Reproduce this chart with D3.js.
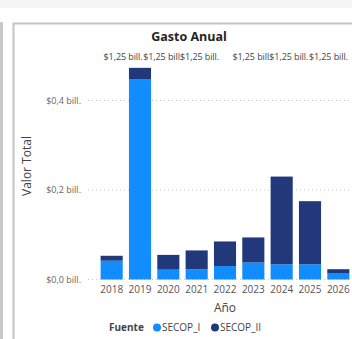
<!DOCTYPE html>
<html><head><meta charset="utf-8">
<script src="https://cdn.jsdelivr.net/npm/d3@7"></script>
<style>
html,body{margin:0;padding:0;background:#fff;overflow:hidden;}
svg{display:block;font-family:"Segoe UI","Open Sans",sans-serif;}
</style></head>
<body>
<svg id="c" width="352" height="339"></svg>
<script>
const years = ["2018","2019","2020","2021","2022","2023","2024","2025","2026"];
const secopI  = [0.042, 0.448, 0.022, 0.023, 0.030, 0.038, 0.034, 0.034, 0.0145];
const secopII = [0.011, 0.025, 0.033, 0.042, 0.055, 0.056, 0.196, 0.141, 0.0085];
const seriesNames = ["SECOP_I","SECOP_II"];
const seriesColors = ["#118DFF","#21387A"];
const yTicks = [0, 0.2, 0.4];
const totalLabel = "$1,25 bill.";
const labelSlots = [0.4, 1.8, 3.1, 4.95, 6.25, 7.65];

const svg = d3.select("#c");
const W = 352, H = 339;

// background pieces
svg.append("rect").attr("x",0).attr("y",0).attr("width",W).attr("height",8).attr("fill","#f5f5f5");
svg.append("rect").attr("x",0).attr("y",22).attr("width",3).attr("height",H-22).attr("fill","#c8c8c8");
svg.append("path").attr("d",`M13.5,${H} V23.5 H${W+2}`).attr("fill","none").attr("stroke","#c4c4c4").attr("stroke-width",2);

const loc = d3.formatLocale({decimal:",", thousands:".", grouping:[3], currency:["$",""]});
const fmt = v => "$" + loc.format(".1f")(v) + " bill.";

const x = d3.scaleBand().domain(years).range([97.5, 352.5]).paddingInner(0.22).paddingOuter(0.11);
const y = d3.scaleLinear().domain([0, 0.5]).range([279.5, 279.5 - 0.5*447.5]);

// gridlines
svg.append("g").selectAll("line").data(yTicks).join("line")
  .attr("x1",88).attr("x2",W).attr("y1",d=>y(d)).attr("y2",d=>y(d))
  .attr("stroke","#c8c8c8").attr("stroke-width",1).attr("stroke-dasharray","1,3");

// y axis labels
const yAxis = d3.axisLeft(y).tickValues(yTicks).tickFormat(fmt).tickSize(0).tickPadding(0);
const gy = svg.append("g").attr("transform","translate(81,0)").call(yAxis);
gy.select(".domain").remove();
gy.selectAll("text").attr("fill","#666").attr("font-size","9px").style("font-family","'Segoe UI','Open Sans',sans-serif");

// stacked bars
const table = years.map((yr,i)=>({year:yr, SECOP_I:secopI[i], SECOP_II:secopII[i]}));
const stacked = d3.stack().keys(seriesNames)(table);
svg.append("g").selectAll("g").data(stacked).join("g")
  .attr("fill",(d,i)=>seriesColors[i])
  .selectAll("rect").data(d=>d).join("rect")
  .attr("x",d=>x(d.data.year)).attr("width",x.bandwidth())
  .attr("y",d=>y(d[1])).attr("height",d=>y(d[0])-y(d[1]));

// x axis
const xAxis = d3.axisBottom(x).tickSize(0).tickPadding(0);
const gx = svg.append("g").attr("transform","translate(0,286)").call(xAxis);
gx.select(".domain").remove();
gx.selectAll("text").attr("fill","#555").attr("font-size","10px").attr("dy","0.71em").style("font-family","'Segoe UI','Open Sans',sans-serif");

// total labels
const step = x.step();
const slotX = d3.scaleLinear().domain([0,1]).range([x(years[0])+x.bandwidth()/2, x(years[0])+x.bandwidth()/2+step]);
svg.append("g").selectAll("text").data(labelSlots).join("text")
  .attr("x",d=>slotX(d)).attr("y",60).attr("text-anchor","middle")
  .attr("fill","#444").attr("font-size","9px").attr("letter-spacing","-0.1px").text(totalLabel);

// title
svg.append("text").attr("x",189).attr("y",41).attr("text-anchor","middle")
  .attr("font-size","12.5px").attr("font-weight","bold").attr("fill","#252423").text("Gasto Anual");

// axis titles
svg.append("text").attr("x",225).attr("y",312).attr("text-anchor","middle")
  .attr("font-size","12px").attr("fill","#444").text("Año");
svg.append("text").attr("transform","translate(31,166) rotate(-90)").attr("text-anchor","middle")
  .attr("font-size","12px").attr("fill","#444").text("Valor Total");

// legend
const lg = svg.append("g");
lg.append("text").attr("x",109).attr("y",331).attr("font-size","10px").attr("font-weight","bold").attr("fill","#444").text("Fuente");
const legX = [157, 215];
seriesNames.forEach((n,i)=>{
  lg.append("circle").attr("cx",legX[i]).attr("cy",327.5).attr("r",4).attr("fill",seriesColors[i]);
  lg.append("text").attr("x",legX[i]+5).attr("y",331).attr("font-size","10px").attr("fill","#444").text(n);
});
</script>
</body></html>
